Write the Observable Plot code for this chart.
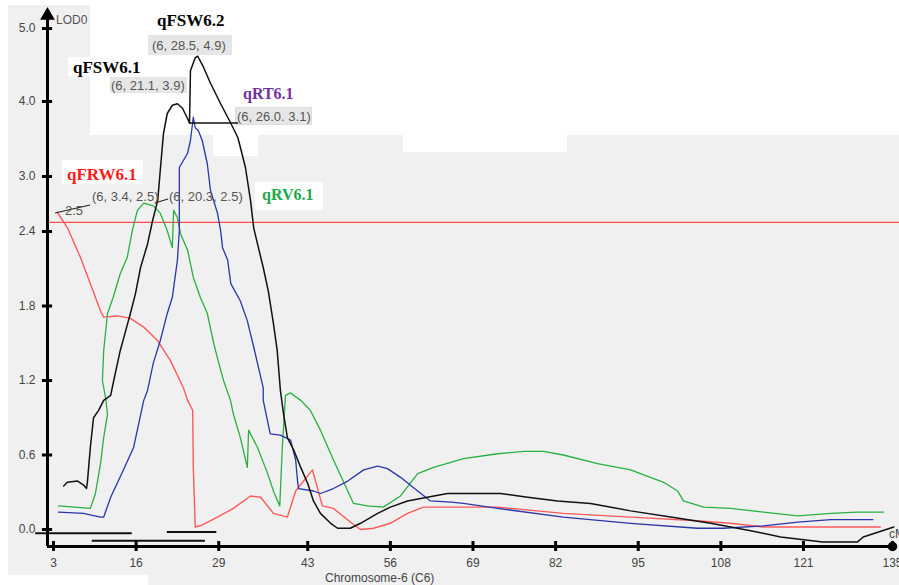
<!DOCTYPE html>
<html>
<head>
<meta charset="utf-8">
<script src="https://cdn.jsdelivr.net/npm/d3@7"></script>
<script src="https://cdn.jsdelivr.net/npm/@observablehq/plot@0.6"></script>
<style>
  body { margin: 0; background: #fff; }
  #wrap { position: relative; width: 899px; height: 585px; background: #f0f0f0; overflow: hidden; font-family: "Liberation Sans", Arial, sans-serif; }
  .bg { position: absolute; }
  .w { background: #fff; }
  .g { background: #e6e6e6; }
  #chart { position: absolute; left: 0; top: 0; }
  .qtl { position: absolute; font-family: "Liberation Serif", "Times New Roman", serif; font-weight: bold; font-size: 17px; line-height: 17px; white-space: nowrap; }
  .pos { position: absolute; font-size: 13px; line-height: 13px; color: #555; white-space: nowrap; }
  .ax { position: absolute; font-size: 12px; line-height: 12px; color: #444; white-space: nowrap; }
  #ann { position: absolute; left: 0; top: 0; }
</style>
</head>
<body>
<div id="wrap">
  <div class="bg w" style="left:0;top:0;width:8px;height:585px"></div>
  <div class="bg w" style="left:0;top:0;width:899px;height:5px"></div>
  <div class="bg w" style="left:90px;top:0;width:809px;height:135px"></div>
  <div class="bg w" style="left:213px;top:135px;width:45px;height:21px"></div>
  <div class="bg w" style="left:403px;top:135px;width:164px;height:17px"></div>
  <div class="bg w" style="left:0;top:575px;width:148px;height:10px"></div>
  <div class="bg g" style="left:148px;top:35px;width:84px;height:20px"></div>
  <div class="bg g" style="left:110px;top:77px;width:77px;height:16px"></div>
  <div class="bg g" style="left:235px;top:107px;width:77px;height:18px;border:1px solid #ddd;box-sizing:border-box"></div>
  <div class="bg w" style="left:68px;top:57px;width:80px;height:19px"></div>
  <div class="bg w" style="left:62px;top:160px;width:81px;height:24px"></div>
  <div class="bg w" style="left:255px;top:182px;width:68px;height:28px"></div>
  <div id="chart"></div>
  <svg id="ann" width="899" height="585">
    <line x1="190" y1="123" x2="238" y2="123" stroke="#111" stroke-width="1.3"/>
    <line x1="55" y1="213" x2="90" y2="205" stroke="#222" stroke-width="1.2"/>
    <line x1="155" y1="203" x2="168" y2="199" stroke="#222" stroke-width="1.2"/>
  </svg>
  <div class="qtl" style="left:157px;top:12px;color:#000">qFSW6.2</div>
  <div class="pos" style="left:152px;top:39px">(6, 28.5, 4.9)</div>
  <div class="qtl" style="left:73px;top:59px;color:#000">qFSW6.1</div>
  <div class="pos" style="left:111px;top:79px">(6, 21.1, 3.9)</div>
  <div class="qtl" style="left:243px;top:85px;color:#7030a0;font-size:16px">qRT6.1</div>
  <div class="pos" style="left:237px;top:110px">(6, 26.0. 3.1)</div>
  <div class="qtl" style="left:67px;top:166px;color:#ff1a1a">qFRW6.1</div>
  <div class="qtl" style="left:262px;top:186px;color:#1aa84a;font-size:16px">qRV6.1</div>
  <div class="pos" style="left:92px;top:190px">(6, 3.4, 2.5)</div>
  <div class="pos" style="left:169px;top:190px">(6, 20.3, 2.5)</div>
  <div class="pos" style="left:65px;top:204px">2.5</div>
  <div class="ax" style="left:56px;top:14px;color:#555">LOD0</div>
  <div class="ax" style="left:889px;top:528px">cM</div>
  <div class="ax" style="left:325px;top:572px">Chromosome-6 (C6)</div>
</div>
<script>
// ---- data (cM, LOD) ----
const xTicks = [3, 16, 29, 43, 56, 69, 82, 95, 108, 121, 135];
const yTicks = [0, 0.6, 1.2, 1.8, 2.4, 3.0, 4.0, 5.0];
const xScaleDomain = [2.06, 135];
const yScaleDomain = [-0.137, 0, 2.4, 3, 4, 5];
const lodThreshold = 2.5;

const fsw = [[4.6,0.35],[5.2,0.38],[6.8,0.39],[7.7,0.36],[8.2,0.33],[8.35,0.39],[8.8,0.66],[9.3,0.90],[10.1,0.96],[10.9,1.04],[12.0,1.08],[12.4,1.18],[13.5,1.44],[14.3,1.59],[15.1,1.74],[15.9,1.90],[16.7,2.11],[17.8,2.30],[18.6,2.52],[19.4,2.74],[19.8,3.08],[20.3,3.57],[20.9,3.84],[21.7,3.95],[22.5,3.97],[23.3,3.91],[24.1,3.77],[24.4,3.71],[24.55,4.42],[25.3,4.60],[25.7,4.62],[26.6,4.47],[27.7,4.25],[29.3,3.97],[30.9,3.71],[32.0,3.52],[32.4,3.39],[33.2,3.12],[34.0,2.74],[34.5,2.44],[35.1,2.30],[36.0,2.11],[36.8,1.92],[37.6,1.66],[38.2,1.44],[38.7,1.12],[39.2,0.93],[39.8,0.74],[40.8,0.64],[41.9,0.50],[43.0,0.37],[43.9,0.23],[45.0,0.13],[46.6,0.05],[47.7,0.01],[49.7,0.01],[51.3,0.05],[54.0,0.13],[56.0,0.18],[58.7,0.23],[61.8,0.26],[65.0,0.29],[73.3,0.29],[77.6,0.26],[82.3,0.23],[87.5,0.21],[93.8,0.15],[100.1,0.10],[106.4,0.05],[112.7,-0.01],[117.4,-0.06],[124.0,-0.10],[129.5,-0.10],[130.4,-0.06],[135.2,0.02]];

const rt = [[3.8,0.14],[7.7,0.13],[10.4,0.10],[10.9,0.10],[12.0,0.26],[14.0,0.48],[15.6,0.66],[17.2,1.04],[17.8,1.12],[18.7,1.34],[19.8,1.52],[20.9,1.74],[21.7,1.87],[22.5,2.17],[22.8,2.41],[22.8,3.12],[24.1,3.31],[24.55,3.48],[25.0,3.79],[25.3,3.65],[25.8,3.61],[26.4,3.48],[27.2,3.17],[27.7,2.85],[28.8,2.60],[29.3,2.41],[29.6,2.27],[30.4,2.17],[30.9,1.98],[32.4,1.84],[33.5,1.68],[34.5,1.47],[36.0,1.14],[36.0,1.04],[37.1,0.77],[38.7,0.76],[40.3,0.72],[41.1,0.56],[41.4,0.39],[41.55,0.33],[43.9,0.31],[45.0,0.29],[47.05,0.33],[49.3,0.39],[51.8,0.48],[54.0,0.51],[55.55,0.49],[57.6,0.42],[60.3,0.31],[62.3,0.23],[65.5,0.22],[67.5,0.21],[72.9,0.17],[83.2,0.10],[93.8,0.05],[104.3,0.01],[108.4,0.01],[114.7,0.03],[120.1,0.06],[125.3,0.08],[131.9,0.08]];

const rv = [[3.8,0.19],[8.8,0.17],[9.6,0.29],[10.4,0.53],[10.9,0.74],[11.5,0.93],[11.2,1.06],[10.7,1.20],[10.9,1.44],[11.5,1.74],[12.4,1.87],[13.5,2.06],[14.6,2.19],[15.4,2.41],[16.2,2.63],[17.2,2.71],[18.7,2.68],[19.8,2.60],[20.9,2.41],[21.7,2.27],[21.9,2.63],[22.5,2.55],[23.0,2.38],[24.1,2.25],[25.0,2.03],[26.1,1.87],[27.2,1.74],[28.2,1.50],[28.8,1.38],[29.75,1.20],[30.85,1.04],[31.3,0.93],[32.4,0.74],[33.5,0.50],[33.7,0.80],[35.1,0.66],[36.7,0.45],[37.6,0.31],[38.6,0.19],[39.0,0.66],[39.5,1.08],[40.3,1.10],[41.9,1.04],[43.4,0.96],[45.0,0.80],[47.05,0.56],[49.3,0.31],[50.2,0.21],[52.4,0.19],[54.9,0.18],[57.6,0.27],[60.3,0.45],[62.8,0.50],[65.5,0.54],[67.5,0.57],[72.9,0.61],[77.0,0.63],[80.1,0.63],[83.2,0.60],[88.6,0.53],[93.8,0.48],[99.0,0.38],[101.2,0.31],[102.1,0.23],[105.3,0.18],[109.5,0.17],[114.7,0.14],[120.1,0.11],[125.3,0.13],[129.5,0.14],[133.6,0.14]];

const frw = [[3.6,2.61],[5.2,2.44],[7.25,2.19],[8.8,1.98],[10.4,1.76],[10.9,1.71],[13.1,1.72],[15.1,1.70],[17.2,1.63],[19.4,1.52],[21.4,1.36],[23.45,1.14],[24.1,1.04],[24.9,0.96],[25.0,0.50],[25.3,0.02],[26.1,0.03],[28.8,0.10],[31.3,0.17],[34.0,0.27],[35.6,0.26],[37.6,0.13],[39.8,0.10],[41.1,0.31],[43.75,0.48],[45.3,0.19],[47.05,0.17],[49.7,0.06],[51.3,0.00],[53.35,0.01],[56.0,0.05],[58.7,0.13],[61.2,0.18],[65.5,0.18],[72.9,0.18],[83.2,0.13],[93.8,0.10],[104.3,0.07],[109.5,0.05],[114.7,0.02],[120.1,0.02],[133.1,0.02]];

// QTL support intervals drawn under the zero line
const ciStart = [0.2, 9.1, 20.9];
const ciEnd = [15.4, 26.9, 28.7];
const ciLevel = [-0.03, -0.09, -0.02];

const intervals = ciStart.map((s, i) => ({s, e: ciEnd[i], l: ciLevel[i]}));
const px = d => d[0], py = d => d[1];
const x0 = xScaleDomain[0], yFloor = yScaleDomain[0];

const chart = Plot.plot({
  width: 899,
  height: 585,
  marginLeft: 47,
  marginRight: 0,
  marginTop: 15,
  marginBottom: 39,
  style: {background: "transparent", fontFamily: "Liberation Sans, Arial, sans-serif", overflow: "visible"},
  x: {type: "linear", domain: xScaleDomain, range: [47, 892]},
  y: {type: "linear", domain: yScaleDomain, range: [546, 529, 231, 176, 101, 28]},
  marks: [
    Plot.ruleY([lodThreshold], {stroke: "#ff4a4a", strokeWidth: 1.3}),
    Plot.line(rv, {x: px, y: py, stroke: "#28b040", strokeWidth: 1.3}),
    Plot.line(frw, {x: px, y: py, stroke: "#ff5a5a", strokeWidth: 1.4}),
    Plot.line(rt, {x: px, y: py, stroke: "#2a35a8", strokeWidth: 1.3}),
    Plot.line(fsw, {x: px, y: py, stroke: "#111", strokeWidth: 1.5}),
    Plot.ruleY(intervals, {y: "l", x1: "s", x2: "e", stroke: "#111", strokeWidth: 2}),
    Plot.ruleX([x0], {stroke: "#000", strokeWidth: 3}),
    Plot.ruleY([yFloor], {x1: x0, x2: xScaleDomain[1], stroke: "#000", strokeWidth: 3}),
    Plot.ruleY(yTicks, {y: d => d, x1: x0 - 0.8, x2: x0 + 0.8, stroke: "#000", strokeWidth: 3}),
    Plot.ruleX(xTicks, {x: d => d, y1: yFloor - 0.04, y2: yFloor + 0.04, stroke: "#000", strokeWidth: 3}),
    Plot.dot([0], {frameAnchor: "top-left", symbol: "triangle", r: 4.5, fill: "#000", stroke: "#000"}),
    Plot.dot([0], {x: xScaleDomain[1], y: yFloor, r: 4, fill: "#000", stroke: "#000"}),
    Plot.axisY({ticks: yTicks, tickSize: 0, tickPadding: 12, tickFormat: d => d.toFixed(1), fontSize: 12, color: "#444", label: null}),
    Plot.axisX({ticks: xTicks, tickSize: 0, tickPadding: 12, tickFormat: d => String(d), fontSize: 12, color: "#444", label: null})
  ]
});
document.getElementById("chart").appendChild(chart);
</script>
</body>
</html>
